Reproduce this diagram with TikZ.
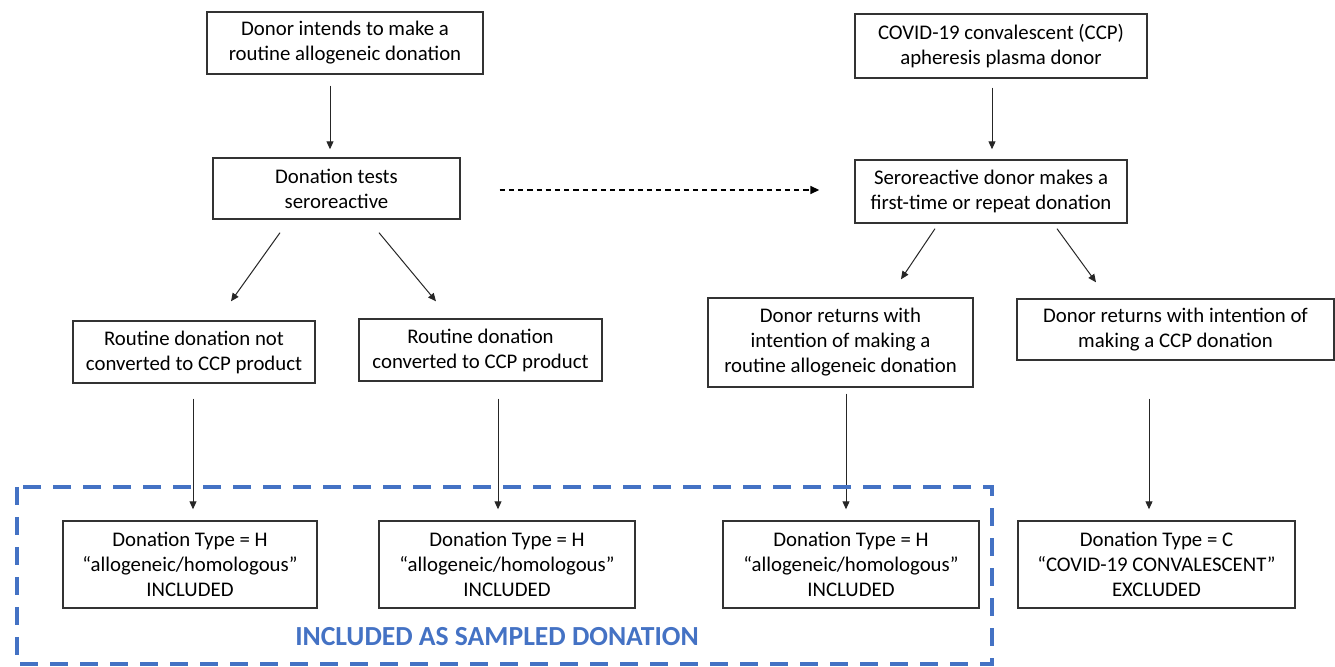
\documentclass[tikz,border=0pt]{standalone}
\usepackage{fontspec}
\setmainfont{Carlito}
\usetikzlibrary{arrows.meta,calc}
\definecolor{frameblue}{HTML}{4472C4}
\begin{document}
\begin{tikzpicture}[x=0.5pt,y=-0.5pt,
  box/.style={draw=black!80,line width=0.7pt,align=center,inner sep=0pt,
    font=\fontsize{10.4}{12.5}\selectfont},
  arr/.style={draw=black!85,line width=0.5pt,-{Triangle[length=4pt,width=3.5pt]}},
  darr/.style={draw=black,line width=0.8pt,dash pattern=on 2.6pt off 2pt,
    -{Triangle[length=4.5pt,width=4pt]}},
  frame/.style={draw=frameblue,line width=2pt,dash pattern=on 9pt off 6pt}]
\useasboundingbox (0,0) rectangle (1335,667);

% upper row
\node[box,minimum width=138pt,minimum height=31pt] (b1) at (345,43)
  {Donor intends to make a\\routine allogeneic donation};
\node[box,minimum width=123.5pt,minimum height=30.5pt] (b2) at (336.5,188.5)
  {Donation tests\\seroreactive};
\node[box,minimum width=146pt,minimum height=32pt] (b3) at (1001,46)
  {COVID-19 convalescent (CCP)\\apheresis plasma donor};
\node[box,minimum width=136pt,minimum height=31.5pt] (b4) at (991,191.5)
  {Seroreactive donor makes a\\first-time or repeat donation};

% middle row
\node[box,minimum width=121pt,minimum height=31pt] (b5) at (194,352)
  {Routine donation not\\converted to CCP product};
\node[box,minimum width=121.5pt,minimum height=31pt] (b6) at (480.5,350)
  {Routine donation\\converted to CCP product};
\node[box,minimum width=132.5pt,minimum height=44.5pt] (b7) at (840.5,342.5)
  {Donor returns with\\intention of making a\\routine allogeneic donation};
\node[box,minimum width=158.5pt,minimum height=30.5pt] (b8) at (1175.5,329.5)
  {Donor returns with intention of\\making a CCP donation};

% outcome row
\node[box,minimum width=127pt,minimum height=43.5pt] (bA) at (190,564.5)
  {Donation Type = H\\“allogeneic/homologous”\\INCLUDED};
\node[box,minimum width=128pt,minimum height=43.5pt] (bB) at (507,564.5)
  {Donation Type = H\\“allogeneic/homologous”\\INCLUDED};
\node[box,minimum width=128pt,minimum height=43.5pt] (bC) at (851,564.5)
  {Donation Type = H\\“allogeneic/homologous”\\INCLUDED};
\node[box,minimum width=138.5pt,minimum height=43.5pt] (bD) at (1156.5,564.5)
  {Donation Type = C\\“COVID-19 CONVALESCENT”\\EXCLUDED};

% connectors
\draw[arr] ($(b1.south)+(-15,11)$) -- ($(b2.north)+(-6.5,-8)$);
\draw[arr] ($(b2.south)+(-56.5,13)$) -- ($(b5.north)+(37,-19)$);
\draw[arr] ($(b2.south)+(42.5,13)$) -- ($(b6.north)+(-44.5,-17)$);
\draw[darr] ($(b2.east)+(39,1.5)$) -- ($(b4.west)+(-35,-1.5)$);
\draw[arr] ($(b3.south)+(-9,9)$) -- ($(b4.north)+(1,-10)$);
\draw[arr] ($(b4.south)+(-56,5)$) -- ($(b7.north)+(60.5,-18)$);
\draw[arr] ($(b4.south)+(66,5)$) -- ($(b8.north)+(-79.5,-16)$);
\draw[arr] ($(b5.south)+(-1,15)$) -- ($(bA.north)+(3,-11)$);
\draw[arr] ($(b6.south)+(17.5,17)$) -- ($(bB.north)+(-9,-11)$);
\draw[arr] ($(b7.south)+(5.5,6)$) -- ($(bC.north)+(-5,-11)$);
\draw[arr] ($(b8.south)+(-26.5,38)$) -- ($(bD.north)+(-7.5,-11)$);

% sampled-donation frame
\draw[frame] (17,487) rectangle (992,664);
\node[text=frameblue,font=\fontsize{13.8}{16}\selectfont\bfseries] (lbl) at (497,637)
  {INCLUDED AS SAMPLED DONATION};
\end{tikzpicture}
\end{document}
